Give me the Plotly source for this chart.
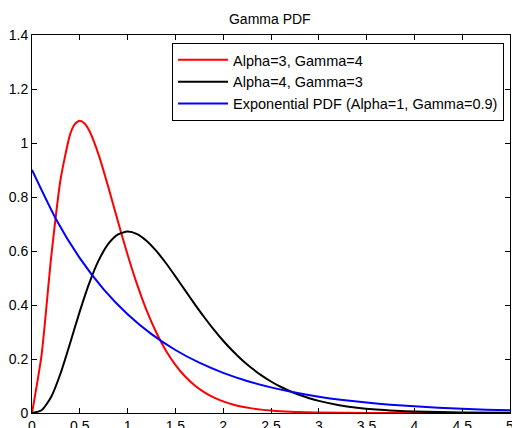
import plotly.graph_objects as go

# Red: Alpha=3, Gamma=4
x_red = [0, 0.1, 0.2, 0.3, 0.4, 0.45, 0.5, 0.55, 0.6, 0.7, 0.8, 0.9, 1.0, 1.1, 1.2, 1.3,
         1.4, 1.5, 1.6, 1.7, 1.8, 1.9, 2.0, 2.1, 2.2, 2.3, 2.4, 2.5, 2.6, 2.7, 2.8, 2.9,
         3.0, 3.5, 4.0, 4.5, 5.0]
y_red = [0, 0.2145, 0.5751, 0.8675, 1.0337, 1.0711, 1.0827, 1.0726, 1.0451, 0.9535,
         0.8348, 0.7082, 0.5861, 0.4754, 0.3792, 0.2983, 0.2319, 0.1785, 0.1361, 0.1030,
         0.0774, 0.0578, 0.0429, 0.0317, 0.0233, 0.0171, 0.0125, 0.0091, 0.0066, 0.0048,
         0.0034, 0.0025, 0.0018, 0.0003, 0.0001, 0.0, 0.0]

# Black: Alpha=4, Gamma=3
x_black = [0, 0.1, 0.2, 0.3, 0.4, 0.5, 0.6, 0.7, 0.8, 0.9, 1.0, 1.1, 1.2, 1.3, 1.4, 1.5,
           1.6, 1.7, 1.8, 1.9, 2.0, 2.1, 2.2, 2.3, 2.4, 2.5, 2.6, 2.7, 2.8, 2.9, 3.0,
           3.2, 3.4, 3.6, 3.8, 4.0, 4.5, 5.0]
y_black = [0, 0.0100, 0.0593, 0.1482, 0.2602, 0.3765, 0.4820, 0.5671, 0.6271, 0.6614,
           0.6721, 0.6627, 0.6374, 0.6004, 0.5555, 0.5062, 0.4551, 0.4044, 0.3556, 0.3098,
           0.2677, 0.2296, 0.1956, 0.1655, 0.1393, 0.1167, 0.0972, 0.0807, 0.0666, 0.0549,
           0.0450, 0.0300, 0.0197, 0.0128, 0.0083, 0.0053, 0.0017, 0.0005]

# Blue: Exponential PDF (Alpha=1, Gamma=0.9)
x_blue = [0, 0.25, 0.5, 0.75, 1.0, 1.25, 1.5, 1.75, 2.0, 2.25, 2.5, 2.75, 3.0, 3.25,
          3.5, 3.75, 4.0, 4.25, 4.5, 4.75, 5.0]
y_blue = [0.9, 0.7187, 0.5738, 0.4582, 0.3659, 0.2922, 0.2333, 0.1863, 0.1488, 0.1188,
          0.0949, 0.0758, 0.0605, 0.0483, 0.0386, 0.0308, 0.0246, 0.0196, 0.0157, 0.0125,
          0.0100]

x_ticks = [0, 0.5, 1, 1.5, 2, 2.5, 3, 3.5, 4, 4.5, 5]
y_ticks = [0, 0.2, 0.4, 0.6, 0.8, 1, 1.2, 1.4]

fig = go.Figure()
fig.add_trace(go.Scatter(x=x_red, y=y_red, mode="lines", name="Alpha=3, Gamma=4",
                         line=dict(color="#ff0000", width=2, shape="spline", smoothing=0.6)))
fig.add_trace(go.Scatter(x=x_black, y=y_black, mode="lines", name="Alpha=4, Gamma=3",
                         line=dict(color="#000000", width=2, shape="spline", smoothing=0.6)))
fig.add_trace(go.Scatter(x=x_blue, y=y_blue, mode="lines",
                         name="Exponential PDF (Alpha=1, Gamma=0.9)",
                         line=dict(color="#0000ff", width=2, shape="spline", smoothing=0.6)))

font_family = "Liberation Sans, Arial, sans-serif"
axis_common = dict(showline=True, linecolor="black", linewidth=1, mirror="ticks",
                   ticks="inside", ticklen=5, tickcolor="black", showgrid=False,
                   zeroline=False, automargin=False, ticklabeloverflow="allow",
                   tickfont=dict(family=font_family, size=14, color="black"))

fig.update_layout(
    width=512, height=428,
    margin=dict(l=32, r=2, t=35, b=15),
    paper_bgcolor="white", plot_bgcolor="white",
    title=dict(text="Gamma PDF", x=0.527, xanchor="center", y=1 - 19 / 428,
               yanchor="middle", yref="container",
               font=dict(family=font_family, size=14, color="black")),
    xaxis=dict(range=[0, 5], tickvals=x_ticks, ticktext=[str(v) for v in x_ticks],
               **axis_common),
    yaxis=dict(range=[0, 1.4], tickvals=y_ticks, ticktext=[str(v) for v in y_ticks],
               **axis_common),
    legend=dict(x=0.293, y=0.979, xanchor="left", yanchor="top",
                bordercolor="black", borderwidth=1, bgcolor="white",
                font=dict(family=font_family, size=14.5, color="black"),
                itemwidth=50, tracegroupgap=0),
    showlegend=True,
)

fig.write_html("out.html")
